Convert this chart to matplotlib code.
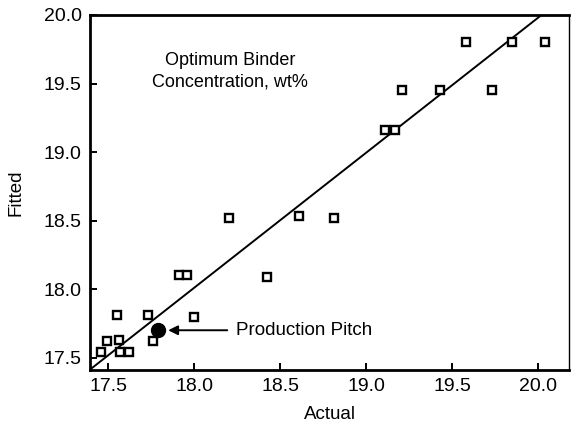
import matplotlib
import matplotlib.pyplot as plt

matplotlib.use("Agg")
plt.rcParams["font.family"] = ["Liberation Sans", "DejaVu Sans"]

# Data
actual = [17.46, 17.49, 17.56, 17.57, 17.62, 17.55, 17.73, 18.00, 17.76,
          17.91, 17.96, 18.42, 18.20, 18.61, 18.81,
          19.11, 19.17, 19.21, 19.43, 19.73, 19.58, 19.85, 20.04]
fitted = [17.54, 17.62, 17.63, 17.54, 17.54, 17.81, 17.81, 17.80, 17.62,
          18.10, 18.10, 18.09, 18.52, 18.53, 18.52,
          19.16, 19.16, 19.45, 19.45, 19.45, 19.80, 19.80, 19.80]
pitch_x = [17.79]
pitch_y = [17.70]
fit_x = [17.39, 20.02]
fit_y = [17.41, 20.00]
ticks = [17.5, 18.0, 18.5, 19.0, 19.5, 20.0]

fig = plt.figure(figsize=(5.72, 4.32), dpi=100)
ax = fig.add_axes([0.1573, 0.1435, 0.8375, 0.8218])

ax.plot(fit_x, fit_y, color="black", lw=1.4)
ax.plot(actual, fitted, ls="none", marker="s", ms=6, mfc="white",
        mec="black", mew=1.7)
ax.plot(pitch_x, pitch_y, ls="none", marker="o", ms=10, color="black")

ax.annotate("Production Pitch", xy=(17.848, 17.70), xytext=(18.24, 17.70),
            fontsize=13.5, va="center", ha="left",
            arrowprops=dict(arrowstyle="-|>", color="black", lw=1.4,
                            mutation_scale=14, shrinkA=4, shrinkB=0))
ax.text(18.21, 19.59, "Optimum Binder\nConcentration, wt%", fontsize=13,
        ha="center", va="center", linespacing=1.3)

ax.set_xlim(17.393, 20.18)
ax.set_ylim(17.41, 20.0)
ax.set_xticks(ticks)
ax.set_yticks(ticks)
ax.set_xticklabels([f"{t:.1f}" for t in ticks])
ax.set_yticklabels([f"{t:.1f}" for t in ticks])
ax.tick_params(direction="in", length=5, width=1.4, labelsize=14,
               pad=6, colors="black")
ax.set_xlabel("Actual", fontsize=13.5, labelpad=8)
ax.set_ylabel("Fitted", fontsize=13.5, labelpad=14)

for side in ["left", "bottom", "top"]:
    ax.spines[side].set_linewidth(2.0)
ax.spines["right"].set_linewidth(1.0)

fig.savefig("out.png", dpi=100)
